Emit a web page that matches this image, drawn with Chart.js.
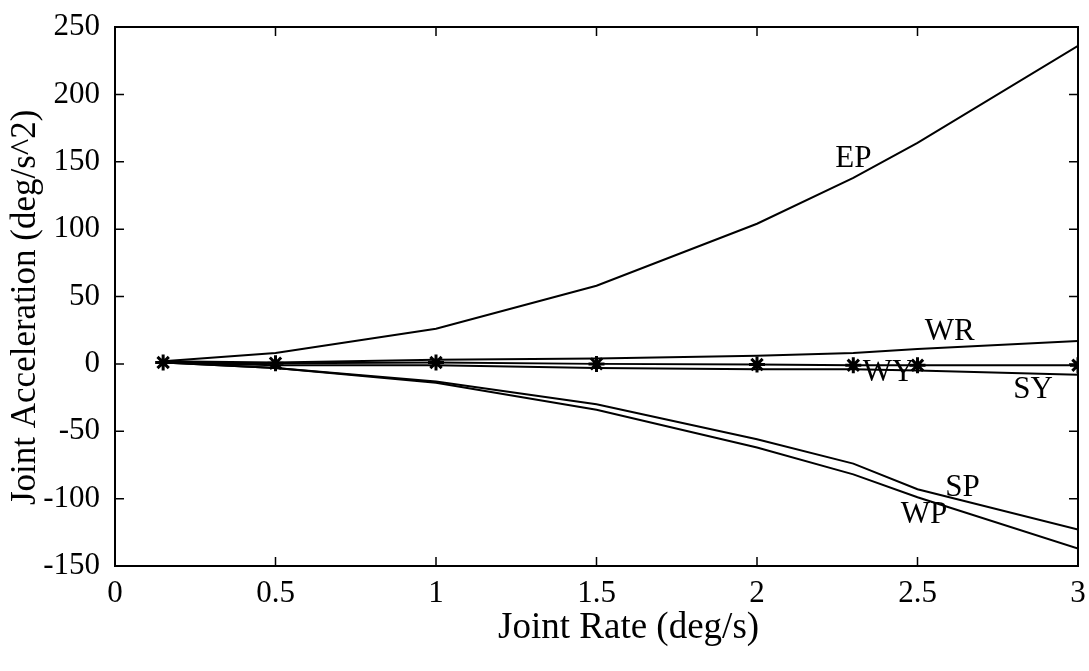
<!DOCTYPE html>
<html>
<head>
<meta charset="utf-8">
<script src="https://cdn.jsdelivr.net/npm/chart.js@4"></script>
<style>
  html, body { margin: 0; padding: 0; background: #fff; }
  #wrap { width: 1089px; height: 671px; }
</style>
</head>
<body>
<div id="wrap"><canvas id="accelChart" width="1089" height="671"></canvas></div>
<script>
// joint rate samples (deg/s)
const rates = [0.15, 0.5, 1, 1.5, 2, 2.3, 2.5, 3];

// joint acceleration per joint (deg/s^2)
const epAccel = [2, 8, 26, 58, 104, 138, 164, 236];
const wrAccel = [2, 1, 3, 4, 6, 8, 11, 17];
const wyAccel = [1, 0.5, 1, 0, -0.5, -1, -1, -1];
const syAccel = [1, -1, -1, -3, -4, -4, -5, -8];
const spAccel = [1, -3, -13, -30, -56, -74, -93, -123];
const wpAccel = [1, -3, -14, -34, -62, -82, -99, -137];

const xTicks = [0, 0.5, 1, 1.5, 2, 2.5, 3];
const yTicks = [-150, -100, -50, 0, 50, 100, 150, 200, 250];

// curve names written next to the lines
const curveNames = ['EP', 'WR', 'WY', 'SY', 'SP', 'WP'];
const nameAtX = [2.3, 2.6, 2.41, 2.86, 2.64, 2.52];
const nameAtY = [152, 24, -7, -19, -92, -112];

const xTitle = 'Joint Rate (deg/s)';
const xTitleAt = 1.6;
const yTitle = 'Joint Acceleration (deg/s^2)';
const yTitleAt = 42;

const serif = '"Liberation Serif", "Times New Roman", serif';

function toPoints(ys) {
    return rates.map((x, i) => ({ x: x, y: ys[i] }));
}

function lineSet(label, ys, marked) {
    return {
        label: label,
        data: toPoints(ys),
        borderColor: '#000',
        borderWidth: 2,
        pointStyle: 'star',
        pointRadius: marked ? 8 : 0,
        pointBorderWidth: 3,
        pointBorderColor: '#000',
        tension: 0,
        fill: false
    };
}

// box, inward ticks, curve names and axis titles
const framePlugin = {
    id: 'frame',
    afterDraw(chart) {
        const c = chart.ctx;
        const a = chart.chartArea;
        const xs = chart.scales.x;
        const ys = chart.scales.y;
        c.save();
        c.strokeStyle = '#000';
        c.lineWidth = 2;
        c.strokeRect(a.left, a.top, a.right - a.left, a.bottom - a.top);
        c.lineWidth = 1.5;
        c.beginPath();
        xTicks.forEach(v => {
            const px = xs.getPixelForValue(v);
            c.moveTo(px, a.bottom); c.lineTo(px, a.bottom - 9);
            c.moveTo(px, a.top); c.lineTo(px, a.top + 9);
        });
        yTicks.forEach(v => {
            const py = ys.getPixelForValue(v);
            c.moveTo(a.left, py); c.lineTo(a.left + 9, py);
            c.moveTo(a.right, py); c.lineTo(a.right - 9, py);
        });
        c.stroke();
        c.fillStyle = '#000';
        c.font = '31px ' + serif;
        c.textAlign = 'center';
        c.textBaseline = 'middle';
        curveNames.forEach((n, i) => {
            c.fillText(n, xs.getPixelForValue(nameAtX[i]), ys.getPixelForValue(nameAtY[i]));
        });
        c.font = '37px ' + serif;
        c.fillText(xTitle, xs.getPixelForValue(xTitleAt), a.bottom + 62);
        c.font = '35px ' + serif;
        c.translate(26, ys.getPixelForValue(yTitleAt));
        c.rotate(-Math.PI / 2);
        c.fillText(yTitle, 0, 0);
        c.restore();
    }
};

const ctx = document.getElementById('accelChart').getContext('2d');

const accelChart = new Chart(ctx, {
    type: 'line',
    data: {
        datasets: [
            lineSet('EP', epAccel, false),
            lineSet('WR', wrAccel, false),
            lineSet('WY', wyAccel, true),
            lineSet('SY', syAccel, false),
            lineSet('SP', spAccel, false),
            lineSet('WP', wpAccel, false)
        ]
    },
    options: {
        responsive: false,
        animation: false,
        layout: { padding: { left: 0, top: 27, right: 9, bottom: 0 } },
        plugins: {
            legend: { display: false },
            tooltip: { enabled: false }
        },
        scales: {
            x: {
                type: 'linear',
                min: 0,
                max: 3,
                afterBuildTicks: s => { s.ticks = xTicks.map(v => ({ value: v })); },
                afterFit: s => { s.height = 105; },
                grid: { display: false },
                border: { display: false },
                ticks: {
                    color: '#000',
                    font: { family: serif, size: 31 },
                    padding: 1,
                    maxRotation: 0,
                    callback: v => String(v)
                }
            },
            y: {
                type: 'linear',
                min: -150,
                max: 250,
                afterBuildTicks: s => { s.ticks = yTicks.map(v => ({ value: v })); },
                afterFit: s => { s.width = 115; },
                grid: { display: false },
                border: { display: false },
                ticks: {
                    color: '#000',
                    font: { family: serif, size: 31 },
                    padding: 7,
                    callback: v => String(v)
                }
            }
        }
    },
    plugins: [framePlugin]
});
</script>
</body>
</html>
